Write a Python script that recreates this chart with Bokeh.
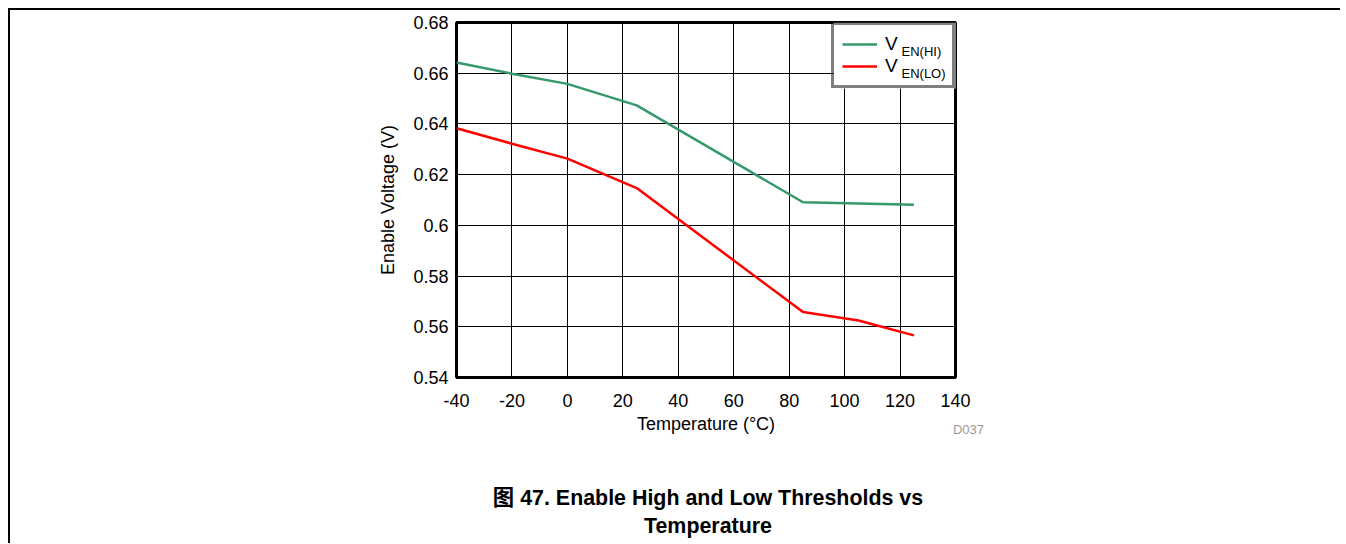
from bokeh.plotting import figure
from bokeh.layouts import column
from bokeh.models import Range1d, FixedTicker, Legend, LegendItem, Div
from bokeh.core.properties import value
from bokeh.embed import file_html
from bokeh.resources import INLINE

# ---- data ----
temps = [-40, -20, 0, 25, 85, 105, 125]
ven_hi = [0.6642, 0.6598, 0.6558, 0.6473, 0.6091, 0.6086, 0.6081]
ven_lo = [0.6383, 0.6322, 0.6263, 0.6147, 0.5658, 0.5625, 0.5566]

x_ticks = [-40, -20, 0, 20, 40, 60, 80, 100, 120, 140]
x_tick_labels = ["-40", "-20", "0", "20", "40", "60", "80", "100", "120", "140"]
y_ticks = [0.54, 0.56, 0.58, 0.6, 0.62, 0.64, 0.66, 0.68]
y_tick_labels = ["0.54", "0.56", "0.58", "0.6", "0.62", "0.64", "0.66", "0.68"]

series_names = ["V", "V"]
series_subs = ["EN(HI)", "EN(LO)"]
series_colors = ["#35996B", "#FF0000"]

x_title = "Temperature (\u00b0C)"
y_title = "Enable Voltage (V)"
doc_id = "D037"
caption_1 = "\u56fe 47. Enable High and Low Thresholds vs"
caption_2 = "Temperature"

FONT = "Liberation Sans"

X0, X1 = -40, 140
Y0, Y1 = 0.54, 0.68
FW, FH = 499, 355          # frame size in px
W, H = 1320, 435
LEFT, TOP = 446, 12

p = figure(width=W, height=H, output_backend="svg", toolbar_location=None,
           x_range=Range1d(X0, X1), y_range=Range1d(Y0, Y1),
           min_border_left=LEFT, min_border_right=W - LEFT - FW,
           min_border_top=TOP, min_border_bottom=H - TOP - FH)


def px_to_data(dx, dy):
    """offset in px from the frame's bottom-left corner (dy upward) -> data"""
    return X0 + dx * (X1 - X0) / FW, Y0 + dy * (Y1 - Y0) / FH


p.background_fill_color = "white"
p.border_fill_color = "white"
p.outline_line_color = "black"
p.outline_line_width = 3

p.xaxis.ticker = FixedTicker(ticks=x_ticks)
p.yaxis.ticker = FixedTicker(ticks=y_ticks)
p.xaxis.major_label_overrides = {t: l for t, l in zip(x_ticks, x_tick_labels)}
p.yaxis.major_label_overrides = {t: l for t, l in zip(y_ticks, y_tick_labels)}

for ax in (p.xaxis[0], p.yaxis[0]):
    ax.axis_line_color = None
    ax.major_tick_line_color = None
    ax.minor_tick_line_color = None
    ax.major_tick_out = 0
    ax.major_tick_in = 0
    ax.major_label_text_font = FONT
    ax.major_label_text_font_size = "18px"
    ax.major_label_text_color = "black"
    ax.axis_label_text_font = FONT
    ax.axis_label_text_font_size = "18px"
    ax.axis_label_text_font_style = "normal"
    ax.axis_label_text_color = "black"

p.xaxis.axis_label = x_title
p.yaxis.axis_label = y_title
p.xaxis.major_label_standoff = 16
p.xaxis.axis_label_standoff = 4
p.yaxis.major_label_standoff = 8
p.yaxis.axis_label_standoff = 12

for g in (p.xgrid[0], p.ygrid[0]):
    g.grid_line_color = "black"
    g.grid_line_width = 1
    g.grid_line_alpha = 1.0

# white backing for the legend box (the legend itself is transparent so the
# subscript texts below it stay visible)
bl, bb = px_to_data(377, 289)
br, bt = px_to_data(500, 355)
p.quad(left=[bl], right=[br], bottom=[bb], top=[bt],
       fill_color="white", line_color=None)

r_hi = p.line(temps, ven_hi, line_color=series_colors[0], line_width=2.5)
r_lo = p.line(temps, ven_lo, line_color=series_colors[1], line_width=2.5)

# subscripts of the legend labels
sub_x, sub_y = [], []
for dy in [326, 304]:
    sx, sy = px_to_data(445, dy)
    sub_x.append(sx)
    sub_y.append(sy)
p.text(x=sub_x, y=sub_y, text=series_subs, level="overlay",
       text_font=value(FONT), text_font_size=value("13px"),
       text_color="black", text_baseline="alphabetic", text_align="left")

legend = Legend(items=[LegendItem(label=series_names[0], renderers=[r_hi]),
                       LegendItem(label=series_names[1], renderers=[r_lo])],
                location="top_right", margin=0, padding=8, spacing=0,
                glyph_width=35, glyph_height=20, label_height=20,
                label_standoff=8, label_width=59,
                label_text_font=FONT, label_text_font_size="19px",
                label_text_color="black",
                border_line_color="black", border_line_width=3,
                background_fill_alpha=0.0)
p.add_layout(legend)

# D037 marker and the figure caption, below the chart
CAP_FONT = "'Liberation Sans', 'Noto Sans CJK SC', sans-serif"
html = (
    f'<div style="position:relative;width:{W}px;height:118px;font-family:{CAP_FONT};">'
    f'<div style="position:absolute;left:{969 - 200}px;width:200px;top:3px;'
    f'text-align:right;font-size:13px;line-height:13px;color:#999999;">{doc_id}</div>'
    f'<div style="position:absolute;left:{693 - 350}px;width:700px;top:64px;'
    f'text-align:center;font-size:21.4px;line-height:28px;font-weight:bold;color:#000;">'
    f'{caption_1}<br>{caption_2}</div>'
    '</div>'
)
div = Div(text=html, width=W, height=118, styles={"margin-top": f"{420 - (10 + H)}px"})

layout = column(p, div, spacing=0,
                styles={"margin-left": "8px", "margin-top": "8px",
                        "border-left": "2px solid black",
                        "border-top": "2px solid black"})

open("out.html", "w").write(file_html(layout, INLINE))
